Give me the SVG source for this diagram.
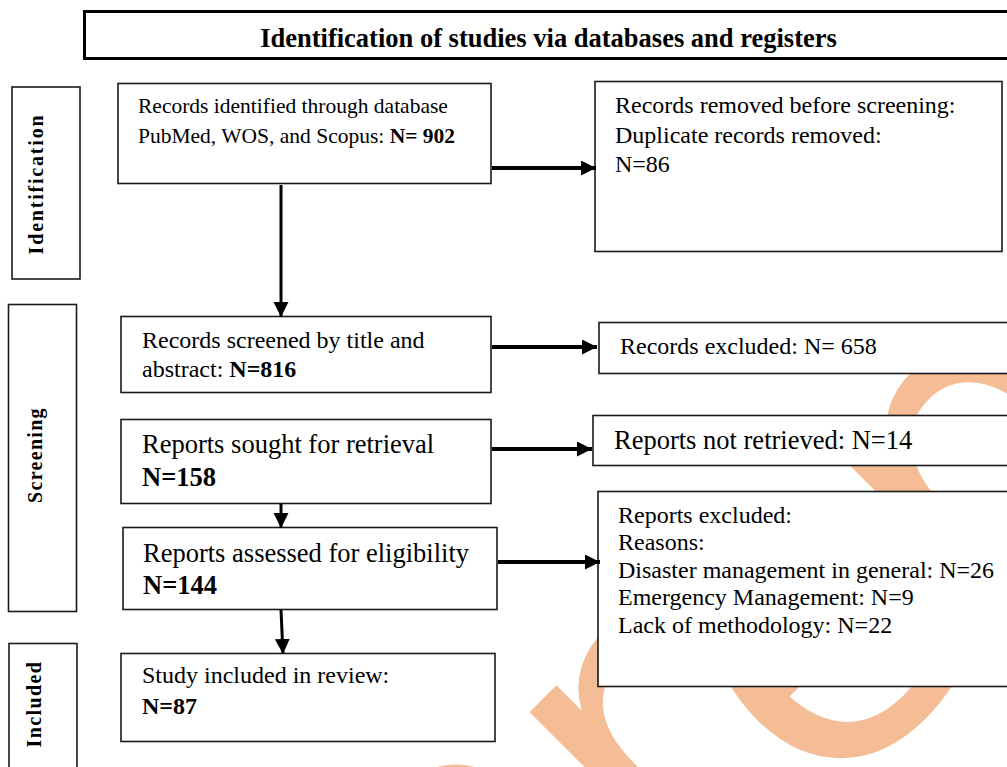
<svg xmlns="http://www.w3.org/2000/svg" width="1007" height="767" viewBox="0 0 1007 767">
<defs>
<style>
.box{fill:#fff;stroke:#1a1a1a;stroke-width:1.6}
.t{font-family:"Liberation Serif","Times New Roman",serif;fill:#000}
.b{font-weight:bold}
.side{font-family:"Liberation Serif","Times New Roman",serif;font-weight:bold;font-size:20px;text-anchor:middle}
.ah{stroke:#000;stroke-width:4;fill:none}
.av{stroke:#000;stroke-width:3;fill:none}
.wm{font-family:"DejaVu Sans",sans-serif;font-weight:normal;fill:#F4BD96}
</style>
<marker id="arr" markerUnits="userSpaceOnUse" markerWidth="16" markerHeight="16" refX="15" refY="7.5" orient="auto">
<path d="M0,0 L15,7.5 L0,15 Z" fill="#000"/>
</marker>
</defs>
<rect width="1007" height="767" fill="#fff"/>
<g id="watermark">
<text class="wm" font-size="420" transform="translate(501,1115) rotate(-45)" dx="0 21 7 -28" dy="0 -35 49 -14">Preprint</text>
</g>
<g id="title">
<rect x="84.5" y="11.5" width="940" height="47" fill="#fff" stroke="#000" stroke-width="3"/>
<text class="t b" x="548.5" y="47" font-size="26.5" text-anchor="middle">Identification of studies via databases and registers</text>
</g>
<g id="stage-identification">
<rect class="box" x="12" y="87" width="68" height="192"/>
<text class="side" letter-spacing="1.8" transform="translate(43,184) rotate(-90)">Identification</text>
</g>
<g id="stage-screening">
<rect class="box" x="8.5" y="304.5" width="68" height="307"/>
<text class="side" letter-spacing="1.3" transform="translate(42,455) rotate(-90)">Screening</text>
</g>
<g id="stage-included">
<rect class="box" x="9" y="643.5" width="68" height="140"/>
<text class="side" letter-spacing="1.4" transform="translate(41,704) rotate(-90)">Included</text>
</g>
<g id="records-identified">
<rect class="box" x="118" y="83.5" width="373" height="100"/>
<text class="t" x="138" y="113" font-size="21.5">Records identified through database</text>
<text class="t" x="138" y="143" font-size="21.5">PubMed, WOS, and Scopus: <tspan class="b">N= 902</tspan></text>
</g>
<g id="records-removed">
<rect class="box" x="595" y="81.5" width="407" height="170"/>
<text class="t" x="615" y="113" font-size="24">Records removed before screening:</text>
<text class="t" x="615" y="143" font-size="24">Duplicate records removed:</text>
<text class="t" x="615" y="172" font-size="24">N=86</text>
</g>
<g id="records-screened">
<rect class="box" x="121" y="316.5" width="370" height="76"/>
<text class="t" x="142" y="348" font-size="24">Records screened by title and</text>
<text class="t" x="142" y="377" font-size="24">abstract: <tspan class="b">N=816</tspan></text>
</g>
<g id="records-excluded">
<rect class="box" x="599" y="322.5" width="420" height="51"/>
<text class="t" x="620" y="354" font-size="24">Records excluded: N= 658</text>
</g>
<g id="reports-sought">
<rect class="box" x="121" y="419.5" width="370" height="84"/>
<text class="t" x="142" y="453" font-size="26.5">Reports sought for retrieval</text>
<text class="t b" x="142" y="486" font-size="26.5">N=158</text>
</g>
<g id="reports-not-retrieved">
<rect class="box" x="593" y="415.5" width="420" height="50"/>
<text class="t" x="614" y="449" font-size="26.5">Reports not retrieved: N=14</text>
</g>
<g id="reports-assessed">
<rect class="box" x="123" y="527.5" width="374" height="82"/>
<text class="t" x="143" y="562" font-size="26.5">Reports assessed for eligibility</text>
<text class="t b" x="143" y="594" font-size="26.5">N=144</text>
</g>
<g id="reports-excluded">
<rect class="box" x="598" y="491.5" width="420" height="195"/>
<text class="t" x="618" y="523" font-size="24">Reports excluded:</text>
<text class="t" x="618" y="550" font-size="24">Reasons:</text>
<text class="t" x="618" y="578" font-size="24">Disaster management in general: N=26</text>
<text class="t" x="618" y="605" font-size="24">Emergency Management: N=9</text>
<text class="t" x="618" y="633" font-size="24">Lack of methodology: N=22</text>
</g>
<g id="study-included">
<rect class="box" x="121" y="653.5" width="374" height="88"/>
<text class="t" x="142" y="683" font-size="24">Study included in review:</text>
<text class="t b" x="142" y="714" font-size="24">N=87</text>
</g>
<g id="connectors">
<line class="ah" x1="492" y1="168" x2="596" y2="168" marker-end="url(#arr)"/>
<line class="ah" x1="492" y1="347" x2="597" y2="347" marker-end="url(#arr)"/>
<line class="ah" x1="492" y1="449" x2="592" y2="449" marker-end="url(#arr)"/>
<line class="ah" x1="498" y1="562" x2="600" y2="562" marker-end="url(#arr)"/>
<line class="av" x1="281" y1="185" x2="281" y2="317" marker-end="url(#arr)"/>
<line class="av" x1="281" y1="504" x2="281" y2="528" marker-end="url(#arr)"/>
<line class="av" x1="281" y1="610" x2="283" y2="654" marker-end="url(#arr)"/>
</g>
</svg>
